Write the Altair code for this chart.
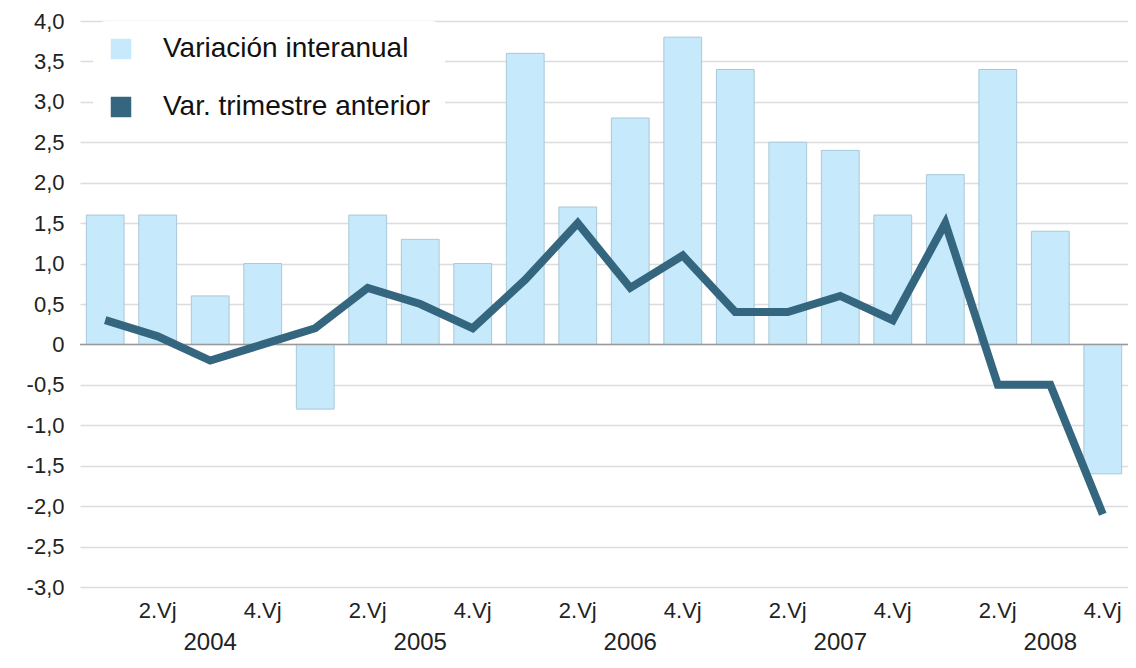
import altair as alt
import pandas as pd

YEARS = [2004, 2005, 2006, 2007, 2008]
QUARTERS = [1, 2, 3, 4]
QUARTER_TICK = ["", "2.Vj", "", "4.Vj"]

# Variación interanual (bars)
interanual = [1.6, 1.6, 0.6, 1.0,
              -0.8, 1.6, 1.3, 1.0,
              3.6, 1.7, 2.8, 3.8,
              3.4, 2.5, 2.4, 1.6,
              2.1, 3.4, 1.4, -1.6]
# Var. trimestre anterior (line)
trimestre = [0.3, 0.1, -0.2, 0.0,
             0.2, 0.7, 0.5, 0.2,
             0.8, 1.5, 0.7, 1.1,
             0.4, 0.4, 0.6, 0.3,
             1.5, -0.5, -0.5, -2.1]

Y_TICKS = [-3.0, -2.5, -2.0, -1.5, -1.0, -0.5, 0.0, 0.5, 1.0, 1.5, 2.0, 2.5, 3.0, 3.5, 4.0]

SERIES = ["Variación interanual", "Var. trimestre anterior"]
COLORS = ["#c6e9fb", "#35667f"]

keys = [f"{y}-{q}" for y in YEARS for q in QUARTERS]
tick_labels = [QUARTER_TICK[q - 1] for y in YEARS for q in QUARTERS]

df = pd.DataFrame({
    "key": keys,
    "interanual": interanual,
    "trimestre": trimestre,
    "serie_bar": SERIES[0],
})
years_df = pd.DataFrame({"key": [f"{y}-3" for y in YEARS], "year": [str(y) for y in YEARS]})

FONT = "Liberation Sans"
W, H = 1048, 566

keys_js = "[" + ",".join(f"'{k}'" for k in keys) + "]"
labels_js = "[" + ",".join(f"'{l}'" for l in tick_labels) + "]"
x_label_expr = f"{labels_js}[indexof({keys_js}, datum.value)]"

y_label_expr = ("datum.value == 0 ? '0' : (datum.value < 0 ? '-' : '') + "
                "replace(format(abs(datum.value), '.1f'), '.', ',')")

x_enc = alt.X(
    "key:N", sort=keys,
    scale=alt.Scale(paddingInner=0.28, paddingOuter=0.12),
    axis=alt.Axis(title=None, labelExpr=x_label_expr, labelAngle=0, ticks=False,
                  domain=False, grid=False, labelFontSize=22, labelPadding=13,
                  labelColor="#222222", labelFont=FONT),
)

y_scale = alt.Scale(domain=[-3, 4], nice=False, zero=False)

bars = alt.Chart(df).mark_bar(stroke="#a9c8d8", strokeWidth=1).encode(
    x=x_enc,
    y=alt.Y("interanual:Q", scale=y_scale,
            axis=alt.Axis(title=None, values=Y_TICKS, labelExpr=y_label_expr,
                          ticks=False, domain=False, grid=True, gridColor="#dcdcdc",
                          gridWidth=1.5, labelFontSize=22, labelPadding=16,
                          labelColor="#222222", labelFont=FONT)),
    color=alt.Color("serie_bar:N",
                    scale=alt.Scale(domain=SERIES, range=COLORS),
                    legend=alt.Legend(title=None, orient="none", legendX=13, legendY=0,
                                      symbolType="square", symbolSize=420,
                                      symbolStrokeWidth=0,
                                      labelFontSize=28, labelFont=FONT, labelColor="#111111",
                                      labelOffset=28, rowPadding=30, padding=14,
                                      fillColor="white", cornerRadius=14,
                                      labelLimit=400)),
)

zero = alt.Chart(pd.DataFrame({"y": [0.0]})).mark_rule(color="#9a9a9a", strokeWidth=1.5).encode(
    y=alt.Y("y:Q", scale=y_scale)
)

line = alt.Chart(df).mark_line(color=COLORS[1], strokeWidth=8, strokeJoin="miter").encode(
    x=alt.X("key:N", sort=keys),
    y=alt.Y("trimestre:Q", scale=y_scale),
)

years_text = alt.Chart(years_df).mark_text(
    fontSize=24, font=FONT, color="#222222", baseline="middle", align="center"
).encode(
    x=alt.X("key:N", sort=keys),
    y=alt.value(H + 56),
    text="year:N",
)

chart = alt.layer(bars, zero, line, years_text).properties(
    width=W, height=H,
    autosize=alt.AutoSizeParams(type="none"),
    padding={"left": 72, "top": 13, "right": 0, "bottom": 72},
).configure_view(stroke=None)

chart.save("out.html", embed_options={"renderer": "svg", "actions": False})
